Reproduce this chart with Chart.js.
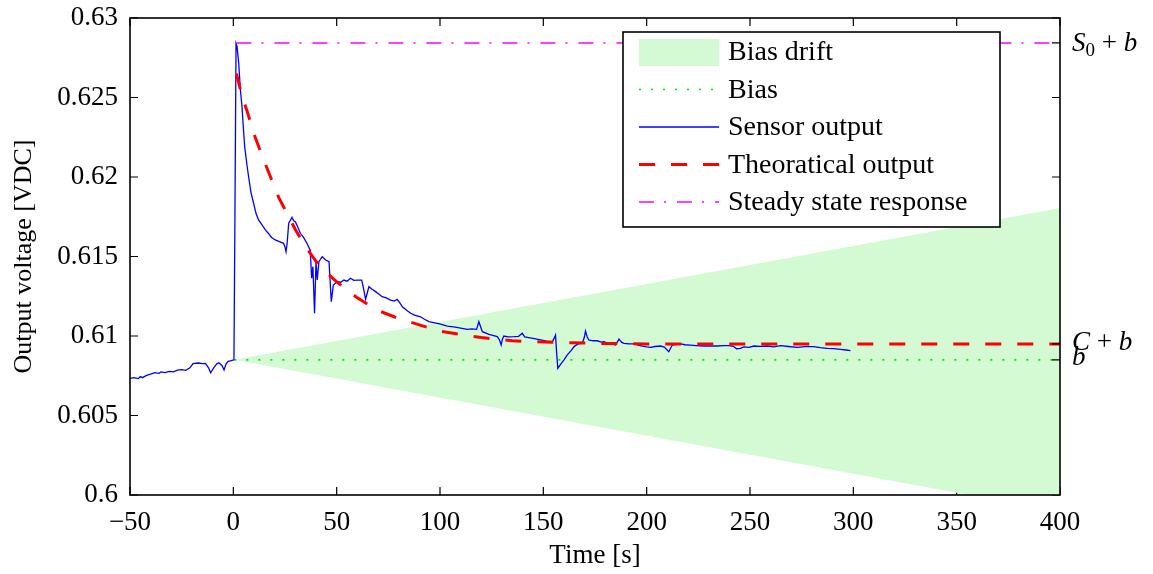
<!DOCTYPE html>
<html>
<head>
<meta charset="utf-8">
<script src="https://cdn.jsdelivr.net/npm/chart.js@4"></script>
<style>
  html, body { margin: 0; padding: 0; background: #fff; }
</style>
</head>
<body>
<canvas id="myChart" width="1153" height="574"></canvas>
<script>
// Sensor output
const sensorTime = [
  -50, -48, -46, -45, -44, -42, -40, -38, -36, -35, -33, -31, -29, -27, -25, -23, -21, -19.5, -17, -15,
  -13.5, -12, -11, -9.5, -8, -7, -5.5, -4.5, -3.5, -2.5, -1, 0.3, 0.9, 1.3, 1.8, 2.6, 3.4, 4.2, 5, 5.5,
  6.5, 7.4, 8.5, 9.8, 11, 12.2, 13.8, 15.5, 17, 18.5, 20.3, 22, 24.3, 25, 25.5, 26, 26.8, 28.4, 29.2, 30,
  31, 32.4, 34, 35.6, 37.2, 37.9, 38.5, 39.3, 40, 40.6, 41.4, 43, 44.7, 46.3, 47.4, 48.4, 50.3, 52, 53.5, 55,
  56.7, 58.3, 60, 62.1, 63, 64, 65.6, 67, 68.8, 70.5, 72, 74, 76.1, 77.8, 79.3, 80.5, 81.8, 84, 85.8, 88,
  90.6, 92.5, 94.6, 97.5, 100.3, 103.5, 106.7, 110, 113.2, 115.5, 117.7, 118.8, 119.6, 120.5, 123.7, 126, 127.7, 128.8, 129.6, 130.2,
  130.9, 133, 135.8, 138, 139.8, 141, 142.2, 145, 148.7, 151.5, 154.3, 155.2, 155.9, 156.4, 157, 158.5, 160, 161.5, 163.2, 165,
  166.8, 168.8, 169.8, 170.4, 171.2, 172, 174, 176.1, 178, 179.3, 181, 183, 185, 186.6, 188, 189, 191.5, 193.8, 196, 197.9,
  200, 201.9, 204, 206.7, 208.5, 210.7, 212.4, 214.5, 216.4, 218.5, 221.2, 224, 227.7, 231, 234.2, 237, 239.8, 242, 243.5, 245.4,
  247, 249.5, 251.9, 255, 258.3, 261.5, 264.8, 268.5, 272.9, 276.5, 280.9, 284, 287.4, 290.5, 293.8, 296.5, 298.6
];
const sensorVolt = [
  0.60734, 0.60738, 0.60732, 0.60745, 0.60738, 0.60752, 0.60760, 0.60770, 0.60765, 0.60774, 0.60770, 0.60778, 0.60774, 0.60785, 0.60788, 0.60784, 0.60800, 0.60826, 0.60830, 0.60826,
  0.60828, 0.60800, 0.60769, 0.60800, 0.60825, 0.60832, 0.60815, 0.60786, 0.60825, 0.60840, 0.60845, 0.60850, 0.62000, 0.62840, 0.62820, 0.62715, 0.62550, 0.62442, 0.62280, 0.62190,
  0.62085, 0.62000, 0.61905, 0.61835, 0.61770, 0.61730, 0.61700, 0.61667, 0.61645, 0.61620, 0.61604, 0.61595, 0.61583, 0.61560, 0.61530, 0.61580, 0.61709, 0.61746, 0.61725, 0.61719,
  0.61690, 0.61646, 0.61620, 0.61583, 0.61540, 0.61363, 0.61436, 0.61143, 0.61467, 0.61352, 0.61467, 0.61499, 0.61478, 0.61467, 0.61216, 0.61321, 0.61342, 0.61338, 0.61352, 0.61345,
  0.61363, 0.61350, 0.61352, 0.61352, 0.61300, 0.61231, 0.61310, 0.61295, 0.61279, 0.61262, 0.61247, 0.61240, 0.61226, 0.61220, 0.61231, 0.61210, 0.61184, 0.61160, 0.61143, 0.61130,
  0.61121, 0.61105, 0.61090, 0.61082, 0.61075, 0.61062, 0.61058, 0.61050, 0.61042, 0.61045, 0.61042, 0.61090, 0.61060, 0.61027, 0.61010, 0.61002, 0.60996, 0.60975, 0.60943, 0.60980,
  0.61000, 0.60995, 0.60996, 0.60998, 0.61017, 0.60995, 0.60992, 0.60985, 0.60975, 0.60968, 0.60964, 0.60985, 0.61006, 0.60900, 0.60797, 0.60825, 0.60850, 0.60880, 0.60905, 0.60935,
  0.60950, 0.60954, 0.60990, 0.61031, 0.60995, 0.60975, 0.60970, 0.60970, 0.60962, 0.60964, 0.60955, 0.60950, 0.60943, 0.60980, 0.60960, 0.60954, 0.60950, 0.60950, 0.60942, 0.60937,
  0.60932, 0.60929, 0.60934, 0.60937, 0.60930, 0.60901, 0.60943, 0.60948, 0.60950, 0.60945, 0.60943, 0.60940, 0.60937, 0.60938, 0.60937, 0.60940, 0.60940, 0.60935, 0.60920, 0.60922,
  0.60932, 0.60928, 0.60937, 0.60935, 0.60937, 0.60932, 0.60939, 0.60934, 0.60929, 0.60933, 0.60933, 0.60927, 0.60922, 0.60920, 0.60916, 0.60912, 0.60908
];

// Theoretical output
const theoryTime = [1.5, 4, 7, 10, 14, 18, 22, 26, 30, 35, 40, 45, 50, 60, 70, 80, 90, 100, 110, 120, 135, 150, 165, 180, 200, 250, 300, 400];
const theoryVolt = [0.6265, 0.6252, 0.6240, 0.6227, 0.6213, 0.6200, 0.6187, 0.6177, 0.6167, 0.6156, 0.6147, 0.6140, 0.6134, 0.6124,
  0.6116, 0.6111, 0.6107, 0.6103, 0.6101, 0.6099, 0.6097, 0.60962, 0.60957, 0.60953, 0.6095, 0.6095, 0.6095, 0.6095];

// Bias, drift band, steady state
const biasTime = [0.5, 400];
const biasVolt = [0.6085, 0.6085];
const driftUpper = [0.6085, 0.61805];
const driftLower = [0.6085, 0.59895];
const steadyTime = [1.5, 400];
const steadyVolt = [0.62843, 0.62843];

const rightLabelValues = [0.62843, 0.6095, 0.6085];
const legendLabels = ["Bias drift", "Bias", "Sensor output", "Theoratical output", "Steady state response"];

const SERIF = '"Liberation Serif", "Times New Roman", serif';
const pts = (xs, ys) => xs.map((x, i) => ({ x: x, y: ys[i] }));

const frame = {
  id: "frame",
  beforeDatasetsDraw(chart) {
    const { ctx, chartArea: a, scales: { x, y } } = chart;
    ctx.save();
    ctx.strokeStyle = "#000";
    ctx.lineWidth = 1.2;
    ctx.beginPath();
    x.ticks.forEach(t => {
      const px = x.getPixelForValue(t.value);
      ctx.moveTo(px, a.bottom); ctx.lineTo(px, a.bottom - 8);
      ctx.moveTo(px, a.top); ctx.lineTo(px, a.top + 8);
    });
    y.ticks.forEach(t => {
      const py = y.getPixelForValue(t.value);
      ctx.moveTo(a.left, py); ctx.lineTo(a.left + 8, py);
      ctx.moveTo(a.right, py); ctx.lineTo(a.right - 8, py);
    });
    ctx.stroke();
    ctx.restore();
  },
  afterDatasetsDraw(chart) {
    const { ctx, chartArea: a, scales: { y } } = chart;
    ctx.save();
    ctx.strokeStyle = "#000";
    ctx.lineWidth = 1.6;
    ctx.strokeRect(a.left, a.top, a.right - a.left, a.bottom - a.top);
    ctx.lineWidth = 1.2;
    ctx.beginPath();
    rightLabelValues.forEach(v => {
      const py = y.getPixelForValue(v);
      ctx.moveTo(a.right, py); ctx.lineTo(a.right - 8, py);
    });
    ctx.stroke();

    // right side labels
    ctx.fillStyle = "#000";
    ctx.textBaseline = "middle";
    ctx.textAlign = "left";
    const it = "italic 27px " + SERIF, up = "27px " + SERIF;
    const run = (parts, x0, y0) => {
      let xx = x0;
      parts.forEach(p => {
        ctx.font = p[1];
        ctx.fillText(p[0], xx, y0 + (p[2] || 0));
        xx += ctx.measureText(p[0]).width;
      });
    };
    const x0 = a.right + 12;
    run([["S", it], ["0", "19px " + SERIF, 7], [" + ", up], ["b", it]], x0, y.getPixelForValue(rightLabelValues[0]) + 1);
    run([["C", it], [" + ", up], ["b", it]], x0, y.getPixelForValue(rightLabelValues[1]) - 1);
    run([["b", it]], x0, y.getPixelForValue(rightLabelValues[2]) - 2);
    ctx.restore();
  },
  afterDraw(chart) {
    const { ctx, chartArea: a } = chart;
    const ds = chart.data.datasets;
    const w = 377, h = 195;
    const left = a.right - 60 - w, top = a.top + 14;
    ctx.save();
    ctx.fillStyle = "#fff";
    ctx.fillRect(left, top, w, h);
    ctx.strokeStyle = "#000";
    ctx.lineWidth = 1.6;
    ctx.strokeRect(left, top, w, h);
    const samples = [ds[0], ds[2], ds[4], ds[5], ds[3]];
    ctx.font = "28px " + SERIF;
    ctx.textBaseline = "middle";
    legendLabels.forEach((lab, i) => {
      const cy = top + 20 + i * 37.5;
      const s = samples[i];
      if (i === 0) {
        ctx.fillStyle = s.backgroundColor;
        ctx.fillRect(left + 16, cy - 13, 80, 27);
      } else {
        ctx.strokeStyle = s.borderColor;
        ctx.lineWidth = s.borderWidth;
        ctx.setLineDash(s.borderDash || []);
        ctx.beginPath();
        ctx.moveTo(left + 16, cy);
        ctx.lineTo(left + 96, cy);
        ctx.stroke();
        ctx.setLineDash([]);
      }
      ctx.fillStyle = "#000";
      ctx.fillText(lab, left + 105, cy + 1);
    });
    ctx.restore();
  }
};

const line = { pointRadius: 0, tension: 0, fill: false };

new Chart(document.getElementById("myChart"), {
  type: "line",
  data: {
    datasets: [
      { ...line, label: "Bias drift", data: pts(biasTime, driftUpper), fill: "+1", backgroundColor: "#d4fad4", borderWidth: 0, borderColor: "rgba(0,0,0,0)", order: 6, clip: 0 },
      { ...line, label: "drift low", data: pts(biasTime, driftLower), borderWidth: 0, borderColor: "rgba(0,0,0,0)", order: 6, clip: 0 },
      { ...line, label: "Bias", data: pts(biasTime, biasVolt), borderColor: "#00e600", borderWidth: 1.6, borderDash: [2, 10], order: 4 },
      { ...line, label: "Steady state response", data: pts(steadyTime, steadyVolt), borderColor: "#ff00ff", borderWidth: 1.5, borderDash: [15, 10, 2, 11], order: 3 },
      { ...line, label: "Sensor output", data: pts(sensorTime, sensorVolt), borderColor: "#0000ff", borderWidth: 1.3, order: 2 },
      { ...line, label: "Theoratical output", data: pts(theoryTime, theoryVolt), borderColor: "#ff0000", borderWidth: 3, borderDash: [16, 16], order: 1 }
    ]
  },
  options: {
    responsive: false,
    animation: false,
    devicePixelRatio: 1,
    layout: { padding: { top: 18, right: 93, bottom: 2, left: 0 } },
    plugins: { legend: { display: false }, tooltip: { enabled: false } },
    scales: {
      x: {
        type: "linear",
        min: -50,
        max: 400,
        border: { display: false },
        grid: { display: false, drawTicks: false, tickLength: 0 },
        ticks: {
          stepSize: 50,
          padding: 12,
          maxRotation: 0,
          color: "#000",
          font: { family: SERIF, size: 27 },
          callback: v => String(v).replace("-", "\u2212")
        },
        title: { display: true, text: "Time [s]", color: "#000", font: { family: SERIF, size: 27 }, padding: 0 },
        afterFit(s) { s.height = 77; s.paddingLeft = 0; s.paddingRight = 0; }
      },
      y: {
        type: "linear",
        min: 0.6,
        max: 0.63,
        border: { display: false },
        grid: { display: false, drawTicks: false, tickLength: 0 },
        ticks: {
          stepSize: 0.005,
          padding: 12,
          color: "#000",
          font: { family: SERIF, size: 27 },
          callback: v => String(parseFloat(v.toFixed(3)))
        },
        title: { display: true, text: "Output voltage [VDC]", color: "#000", font: { family: SERIF, size: 26 }, padding: { top: 9, bottom: 0 } },
        afterFit(s) { s.width = 130; s.paddingTop = 0; s.paddingBottom = 0; }
      }
    }
  },
  plugins: [frame]
});
</script>
</body>
</html>
